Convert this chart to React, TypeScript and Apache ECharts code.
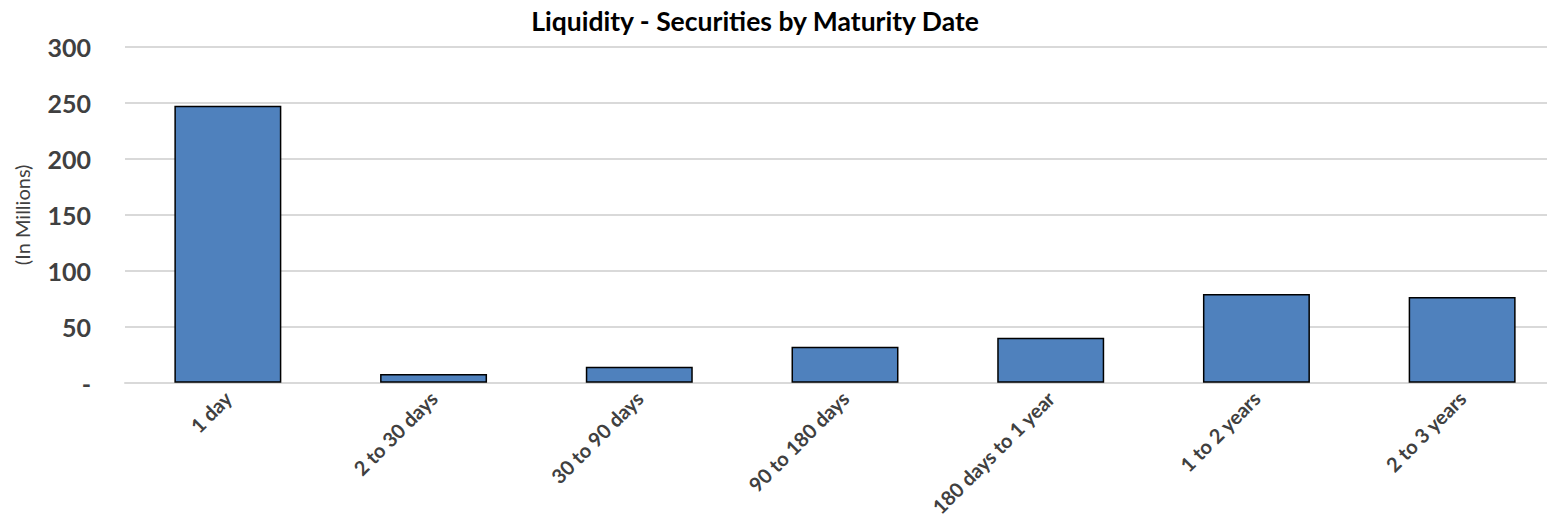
import React, { useEffect, useRef } from "react";
import * as echarts from "echarts";

const categories = ["1 day", "2 to 30 days", "30 to 90 days", "90 to 180 days", "180 days to 1 year", "1 to 2 years", "2 to 3 years"];
const values = [247.5, 7.8, 14.3, 32.1, 40.2, 79.2, 76.5];
const titleText = "Liquidity - Securities by Maturity Date";
const yAxisName = "(In Millions)";

export default function App() {
  const ref = useRef<HTMLDivElement>(null);
  useEffect(() => {
    if (!ref.current) return;
    const chart = echarts.init(ref.current, undefined, { renderer: "svg" });
    chart.setOption({
      animation: false,
      title: {
        text: titleText,
        left: 750,
        top: 2,
        textAlign: "center",
        textStyle: { fontFamily: "Lato", fontWeight: "bold", fontSize: 26.5, color: "#000" },
      },
      grid: { left: 125, right: 5, top: 47, bottom: 141.3, containLabel: false, outerBoundsMode: "none" },
      xAxis: {
        type: "category",
        data: categories,
        axisLine: { show: true, lineStyle: { color: "#d9d9d9", width: 2 } },
        axisTick: { show: false },
        axisLabel: {
          rotate: 45,
          interval: 0,
          margin: 12,
          fontFamily: "Lato",
          fontWeight: "bold",
          fontSize: 20,
          color: "#404040",
        },
      },
      yAxis: {
        type: "value",
        min: 0,
        max: 300,
        interval: 50,
        name: yAxisName,
        nameLocation: "middle",
        nameGap: 93,
        nameTextStyle: { fontFamily: "Lato", fontSize: 20, color: "#404040" },
        axisLine: { show: false },
        axisTick: { show: false },
        splitLine: { lineStyle: { color: "#d9d9d9", width: 2 } },
        axisLabel: {
          margin: 34,
          fontFamily: "Lato",
          fontWeight: "bold",
          fontSize: 25,
          color: "#404040",
          formatter: (v: number) => (v === 0 ? "-" : String(v)),
        },
      },
      series: [
        {
          type: "bar",
          data: values,
          barWidth: "52%",
          itemStyle: { color: "#4F81BD", borderColor: "#000", borderWidth: 1.5 },
        },
      ],
    });
    return () => chart.dispose();
  }, []);
  return (
    <div style={{ position: "fixed", left: 0, top: 0, width: 1547, height: 524, overflow: "hidden", background: "#fff" }}>
      <div ref={ref} style={{ width: 1570, height: 524 }} />
    </div>
  );
}
